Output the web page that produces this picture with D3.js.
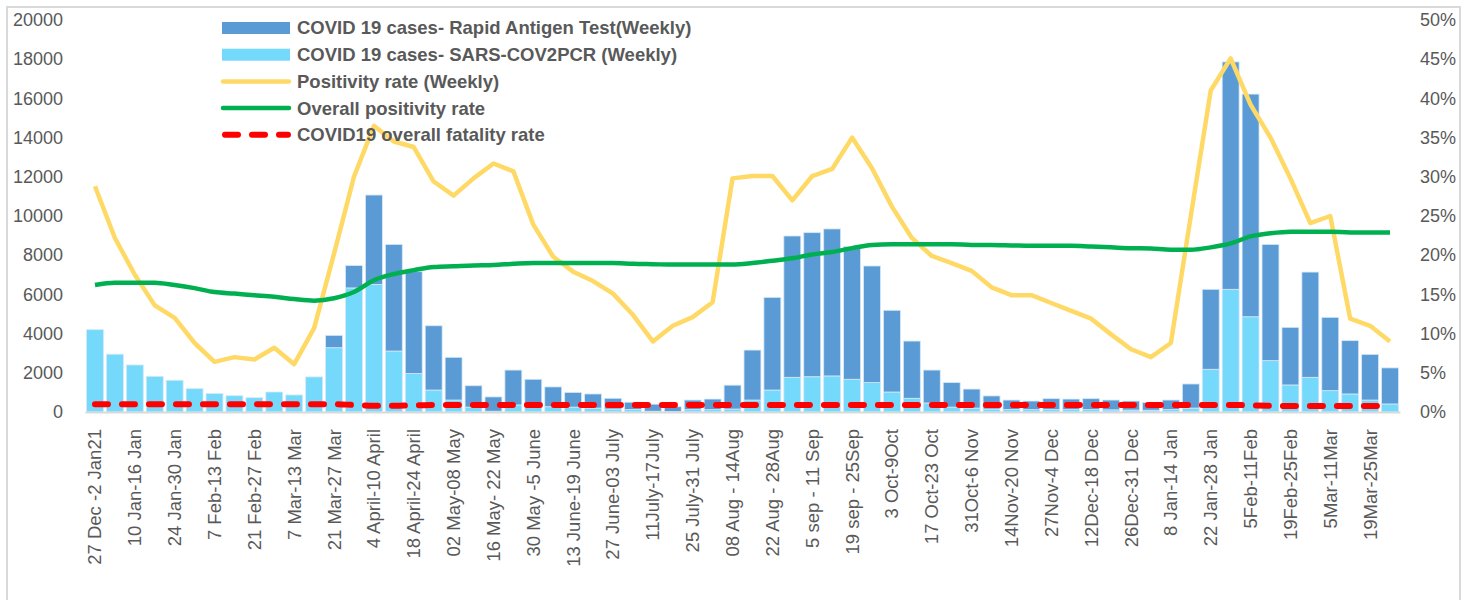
<!DOCTYPE html>
<html>
<head>
<meta charset="utf-8">
<script src="https://cdn.jsdelivr.net/npm/d3@7"></script>
<style>
  body { margin: 0; background: #fff; }
  svg text { font-family: "Liberation Sans", Arial, sans-serif; fill: #595959; }
</style>
</head>
<body>
<div class="container"></div>
<script>
// week labels, shown under every second bar
var weekLabels = ["27 Dec -2 Jan21", "10 Jan-16 Jan", "24 Jan-30 Jan", "7 Feb-13 Feb", "21 Feb-27 Feb",
  "7 Mar-13 Mar", "21 Mar-27 Mar", "4 April-10 April", "18 April-24 April", "02 May-08 May",
  "16 May- 22 May", "30 May -5 June", "13 June-19 June", "27 June-03 July", "11July-17July",
  "25 July-31 July", "08 Aug - 14Aug", "22 Aug - 28Aug", "5 sep - 11 Sep", "19 sep - 25Sep",
  "3 Oct-9Oct", "17 Oct-23 Oct", "31Oct-6 Nov", "14Nov-20 Nov", "27Nov-4 Dec", "12Dec-18 Dec",
  "26Dec-31 Dec", "8 Jan-14 Jan", "22 Jan-28 Jan", "5Feb-11Feb", "19Feb-25Feb", "5Mar-11Mar", "19Mar-25Mar"];

// weekly cases, PCR (light) and rapid antigen (dark), stacked
var pcrCases = [4200, 2950, 2400, 1820, 1620, 1190, 940, 830, 730, 1020, 870, 1790, 3280, 6330, 6510, 3110,
  1960, 1120, 610, 250, 40, 360, 350, 270, 250, 200, 150, 130, 40, 20, 120, 120,
  150, 610, 1120, 1770, 1800, 1840, 1670, 1500, 1020, 700, 460, 250, 200, 150, 130, 120,
  120, 120, 120, 110, 100, 90, 120, 200, 2180, 6260, 4860, 2620, 1380, 1770, 1090, 920, 610, 410];
var ratCases = [0, 0, 0, 0, 0, 0, 0, 0, 0, 0, 0, 0, 630, 1140, 4560, 5440,
  5200, 3280, 2180, 1090, 730, 1780, 1320, 1010, 750, 720, 550, 370, 360, 250, 490, 540,
  1220, 2550, 4730, 7210, 7350, 7500, 6770, 5950, 4170, 2920, 1680, 1250, 970, 670, 480, 440,
  560, 540, 560, 500, 460, 390, 490, 1230, 4080, 11600, 11360, 5930, 2940, 5370, 3740, 2720, 2330, 1840];

// rates (%)
var positivityWeekly = [28.8, 22.2, 17.5, 13.6, 12.0, 8.8, 6.4, 7.0, 6.7, 8.2, 6.1, 10.7, 20.2, 30.0, 36.5, 34.5,
  33.8, 29.4, 27.6, 29.8, 31.7, 30.7, 23.9, 19.8, 17.9, 16.7, 15.1, 12.4, 9.0, 11.0, 12.1, 14.0,
  29.8, 30.1, 30.1, 27.0, 30.1, 31.0, 35.0, 31.1, 26.2, 22.2, 19.9, 19.0, 18.0, 15.9, 14.9, 14.9,
  13.9, 12.9, 11.9, 9.9, 8.0, 7.0, 8.8, 25.0, 41.0, 45.1, 39.2, 35.0, 29.8, 24.1, 25.0, 11.9, 11.0, 9.0];
var positivityOverall = [16.2, 16.5, 16.5, 16.5, 16.2, 15.8, 15.3, 15.1, 14.9, 14.7, 14.4, 14.2, 14.5, 15.3, 16.8, 17.6,
  18.1, 18.5, 18.6, 18.7, 18.75, 18.9, 19.0, 19.0, 19.0, 19.0, 19.0, 18.9, 18.85, 18.8, 18.8, 18.8,
  18.8, 19.0, 19.3, 19.6, 20.1, 20.4, 20.9, 21.3, 21.4, 21.4, 21.4, 21.4, 21.3, 21.3, 21.25, 21.2,
  21.2, 21.2, 21.1, 21.0, 20.9, 20.85, 20.7, 20.7, 21.0, 21.5, 22.4, 22.8, 23.0, 23.0, 23.0, 22.9, 22.9, 22.9];
var fatalityOverall = [1.0, 1.0, 1.0, 1.0, 1.0, 1.0, 1.0, 1.0, 1.0, 1.0, 1.0, 1.0, 1.0, 0.9, 0.8, 0.8,
  0.85, 0.9, 0.9, 0.9, 0.9, 0.9, 0.9, 0.9, 0.9, 0.9, 0.9, 0.9, 0.9, 0.9, 0.9, 0.9,
  0.9, 0.9, 0.9, 0.9, 0.9, 0.9, 0.9, 0.9, 0.9, 0.9, 0.9, 0.9, 0.9, 0.9, 0.9, 0.9,
  0.9, 0.9, 0.9, 0.9, 0.9, 0.9, 0.9, 0.9, 0.9, 0.9, 0.85, 0.8, 0.75, 0.75, 0.75, 0.75, 0.75, 0.75];

var casesTicks = [0, 2000, 4000, 6000, 8000, 10000, 12000, 14000, 16000, 18000, 20000];
var rateTicks = [0, 0.05, 0.1, 0.15, 0.2, 0.25, 0.3, 0.35, 0.4, 0.45, 0.5];

var legendItems = [
  {name: "COVID 19 cases- Rapid Antigen Test(Weekly)", type: "bar", color: "#5b9bd5"},
  {name: "COVID 19 cases- SARS-COV2PCR (Weekly)", type: "bar", color: "#75d9fc"},
  {name: "Positivity rate (Weekly)", type: "line", color: "#ffd966"},
  {name: "Overall positivity rate", type: "line", color: "#00b050"},
  {name: "COVID19 overall fatality rate", type: "dash", color: "#ff0000"}
];

var svg = d3.select(".container").append("svg")
  .attr("width", 1473)
  .attr("height", 600);

// chart frame
svg.append("rect")
  .attr("x", 7).attr("y", 7)
  .attr("width", 1453).attr("height", 610)
  .attr("fill", "none")
  .attr("stroke", "#d9d9d9")
  .attr("stroke-width", 2);

var weeks = d3.range(pcrCases.length);
var x = d3.scaleBand().domain(weeks).range([85, 1400]).paddingInner(0.15).paddingOuter(0.075);
var yCases = d3.scaleLinear().domain([0, 20000]).range([412, 20]);
var yRate = d3.scaleLinear().domain([0, 0.5]).range([412, 20]);

var rows = weeks.map(function(i){ return {week: i, pcr: pcrCases[i], rat: ratCases[i]}; });
var stacked = d3.stack().keys(["pcr", "rat"])(rows);
var barColors = {pcr: "#75d9fc", rat: "#5b9bd5"};

svg.append("g").selectAll("g").data(stacked).enter()
  .append("g")
  .attr("fill", function(d){ return barColors[d.key]; })
  .selectAll("rect").data(function(d){ return d; }).enter()
  .append("rect")
  .attr("x", function(d){ return x(d.data.week); })
  .attr("y", function(d){ return yCases(d[1]); })
  .attr("width", x.bandwidth())
  .attr("height", function(d){ return yCases(d[0]) - yCases(d[1]); })
  .attr("stroke", "#d6e8f7")
  .attr("stroke-width", 0.8);

// axes
var xAxis = svg.append("g")
  .attr("transform", "translate(0,412)")
  .call(d3.axisBottom(x)
    .tickValues(weeks.filter(function(i){ return i % 2 === 0; }))
    .tickFormat(function(i){ return weekLabels[i / 2]; })
    .tickSize(0).tickSizeOuter(0));
xAxis.select(".domain").attr("stroke", "#d9d9d9").attr("stroke-width", 2);
xAxis.selectAll("text")
  .attr("font-size", 18.5)
  .attr("transform", "rotate(-90)")
  .attr("text-anchor", "end")
  .attr("x", -17).attr("y", 0).attr("dy", "0.35em");

var leftAxis = svg.append("g")
  .attr("transform", "translate(85,0)")
  .call(d3.axisLeft(yCases).tickValues(casesTicks).tickFormat(d3.format("d")).tickSize(0).tickPadding(22));
leftAxis.select(".domain").remove();
leftAxis.selectAll("text").attr("font-size", 18);

var rightAxis = svg.append("g")
  .attr("transform", "translate(1400,0)")
  .call(d3.axisRight(yRate).tickValues(rateTicks).tickFormat(d3.format(".0%")).tickSize(0).tickPadding(20));
rightAxis.select(".domain").remove();
rightAxis.selectAll("text").attr("font-size", 18);

var cx = function(i){ return x(i) + x.bandwidth() / 2; };

var weeklyLine = d3.line().x(function(d, i){ return cx(i); }).y(function(d){ return yRate(d / 100); });
var smoothLine = d3.line().x(function(d, i){ return cx(i); }).y(function(d){ return yRate(d / 100); })
  .curve(d3.curveMonotoneX);

svg.append("path").datum(positivityWeekly)
  .attr("d", weeklyLine)
  .attr("fill", "none").attr("stroke", "#ffd966").attr("stroke-width", 4.5)
  .attr("stroke-linejoin", "round");

svg.append("path").datum(positivityOverall)
  .attr("d", smoothLine)
  .attr("fill", "none").attr("stroke", "#00b050").attr("stroke-width", 4.5);

svg.append("path").datum(fatalityOverall)
  .attr("d", smoothLine)
  .attr("fill", "none").attr("stroke", "#ff0000").attr("stroke-width", 6)
  .attr("stroke-dasharray", "13,14").attr("stroke-linecap", "round");

// legend
var legend = svg.append("g").selectAll("g").data(legendItems).enter()
  .append("g")
  .attr("transform", function(d, i){ return "translate(222," + (28 + i * 26.7) + ")"; });

legend.filter(function(d){ return d.type === "bar"; }).append("rect")
  .attr("x", 0).attr("y", -6).attr("width", 68).attr("height", 12)
  .attr("fill", function(d){ return d.color; });

legend.filter(function(d){ return d.type !== "bar"; }).append("line")
  .attr("x1", function(d){ return d.type === "dash" ? 3 : 1; })
  .attr("x2", function(d){ return d.type === "dash" ? 66 : 67; })
  .attr("stroke", function(d){ return d.color; })
  .attr("stroke-width", function(d){ return d.type === "dash" ? 6 : 4.5; })
  .attr("stroke-linecap", "round")
  .attr("stroke-dasharray", function(d){ return d.type === "dash" ? "13,14" : null; });

legend.append("text")
  .attr("x", 75).attr("dy", "0.35em")
  .attr("font-family", "Lato, sans-serif")
  .attr("font-weight", "bold")
  .attr("font-size", 18.5)
  .text(function(d){ return d.name; });
</script>
</body>
</html>
